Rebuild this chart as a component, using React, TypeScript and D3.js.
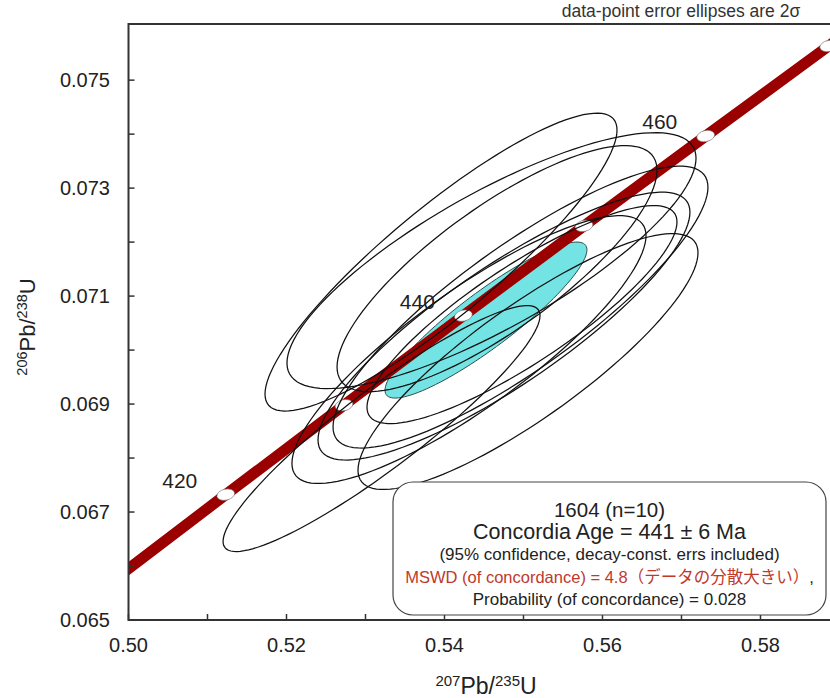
import React from 'react';
import * as d3 from 'd3';

// Concordia curve (207Pb/235U, 206Pb/238U) at ages in Ma
const concordiaAges = [400, 410, 420, 430, 440, 450, 460, 470, 480];
const concordiaX = [0.48281, 0.49749, 0.51231, 0.52728, 0.54239, 0.55766, 0.57307, 0.58864, 0.60436];
const concordiaY = [0.064016, 0.065668, 0.067322, 0.068979, 0.070638, 0.0723, 0.073965, 0.075633, 0.077302];
const markerAges = [420, 430, 440, 450, 460, 470];
const labelAges = [420, 440, 460];

// data-point error ellipses (2 sigma)
const spotX = [0.53956, 0.54595, 0.54665, 0.54962, 0.54753, 0.54981, 0.5431, 0.55057, 0.53203];
const spotY = [0.07163, 0.071657, 0.071509, 0.070796, 0.070444, 0.070657, 0.070009, 0.069787, 0.068546];
const spotSx = [0.02228, 0.02589, 0.02025, 0.02373, 0.02354, 0.01962, 0.02241, 0.02152, 0.02006];
const spotSy = [0.002759, 0.00237, 0.002278, 0.002611, 0.002481, 0.002019, 0.002481, 0.00237, 0.002278];
const spotRho = [0.886, 0.8, 0.8, 0.85, 0.85, 0.85, 0.85, 0.85, 0.918];

// concordia age ellipse
const meanX = [0.54525];
const meanY = [0.070556];
const meanSx = [0.01278];
const meanSy = [0.001445];
const meanRho = [0.9];

const xTickValues = [0.5, 0.51, 0.52, 0.53, 0.54, 0.55, 0.56, 0.57, 0.58];
const xTickLabels = ['0.50', '', '0.52', '', '0.54', '', '0.56', '', '0.58'];
const yTickValues = [0.065, 0.066, 0.067, 0.068, 0.069, 0.07, 0.071, 0.072, 0.073, 0.074, 0.075];
const yTickLabels = ['0.065', '', '0.067', '', '0.069', '', '0.071', '', '0.073', '', '0.075'];

const boxLines = [
  '1604 (n=10)',
  'Concordia Age = 441 ± 6 Ma',
  '(95% confidence, decay-const. errs included)',
  'MSWD (of concordance) = 4.8（データの分散大きい）',
  'Probability (of concordance) = 0.028',
];

const W = 830;
const H = 698;
const left = 128.5;
const right = 830;
const top = 24;
const bottom = 620;

const x = d3.scaleLinear().domain([0.5, 0.5888]).range([left, right]);
const y = d3.scaleLinear().domain([0.065, 0.07604]).range([bottom, top]);

const FONT = '"Liberation Sans", Arial, Helvetica, sans-serif';

function ellipsePath(cx: number, cy: number, sx: number, sy: number, rho: number) {
  const n = 120;
  const pts: [number, number][] = [];
  const k = Math.sqrt(1 - rho * rho);
  for (let i = 0; i <= n; i++) {
    const t = (i / n) * Math.PI * 2;
    const vx = cx + sx * Math.cos(t);
    const vy = cy + sy * (rho * Math.cos(t) + k * Math.sin(t));
    pts.push([x(vx), y(vy)]);
  }
  return d3.line().curve(d3.curveLinearClosed)(pts) as string;
}

export default function App() {
  const concPts: [number, number][] = concordiaAges.map((_, i) => [x(concordiaX[i]), y(concordiaY[i])]);
  const concPath = d3.line().curve(d3.curveCatmullRom)(concPts) as string;
  const ageIndex = (a: number) => concordiaAges.indexOf(a);

  const boxX = 393;
  const boxY = 482;
  const boxW = 433;
  const boxH = 133;
  const boxCx = boxX + boxW / 2;

  return (
    <svg width={W} height={H} style={{ position: 'absolute', left: 0, top: 0, background: '#fff' }} fontFamily={FONT}>
      <defs>
        <clipPath id="plotClip">
          <rect x={left} y={top} width={right - left + 20} height={bottom - top} />
        </clipPath>
      </defs>
      <rect x={0} y={0} width={W} height={H} fill="#fff" />

      <g clipPath="url(#plotClip)">
        {/* concordia age ellipse */}
        <path
          d={ellipsePath(meanX[0], meanY[0], meanSx[0], meanSy[0], meanRho[0])}
          fill="#74e3e3"
          stroke="#2f4f4f"
          strokeWidth={1}
        />
        {/* concordia band */}
        <path d={concPath} fill="none" stroke="#9b0000" strokeWidth={11} />
        {markerAges.map((a) => {
          const i = ageIndex(a);
          const px = x(concordiaX[i]);
          const py = y(concordiaY[i]);
          return (
            <ellipse
              key={a}
              cx={px}
              cy={py}
              rx={9}
              ry={5.5}
              transform={`rotate(-12 ${px} ${py})`}
              fill="#fff"
              stroke="#777"
              strokeWidth={0.6}
            />
          );
        })}
        {/* data-point ellipses */}
        {spotX.map((_, i) => (
          <path
            key={i}
            d={ellipsePath(spotX[i], spotY[i], spotSx[i], spotSy[i], spotRho[i])}
            fill="none"
            stroke="#111"
            strokeWidth={1.25}
          />
        ))}
      </g>

      {labelAges.map((a) => {
        const i = ageIndex(a);
        return (
          <text
            key={a}
            x={x(concordiaX[i]) - 46}
            y={y(concordiaY[i]) - 7}
            textAnchor="middle"
            fontSize={21}
            fill="#222"
          >
            {a}
          </text>
        );
      })}

      {/* frame */}
      <path
        d={`M${right + 5},${top}H${left}V${bottom}H${right + 5}`}
        fill="none"
        stroke="#333"
        strokeWidth={2}
      />
      {xTickValues.map((v, i) => (
        <g key={'xt' + i}>
          <line x1={x(v)} x2={x(v)} y1={bottom} y2={bottom - 6} stroke="#333" strokeWidth={1.5} />
          {xTickLabels[i] && (
            <text x={x(v)} y={652} textAnchor="middle" fontSize={20} fill="#222">
              {xTickLabels[i]}
            </text>
          )}
        </g>
      ))}
      {yTickValues.map((v, i) => (
        <g key={'yt' + i}>
          <line x1={left} x2={left + 6} y1={y(v)} y2={y(v)} stroke="#333" strokeWidth={1.5} />
          {yTickLabels[i] && (
            <text x={110} y={y(v) + 7} textAnchor="end" fontSize={20} fill="#222">
              {yTickLabels[i]}
            </text>
          )}
        </g>
      ))}

      {/* axis titles */}
      <text x={486} y={694} textAnchor="middle" fill="#222">
        <tspan fontSize={15} dy={-8}>207</tspan>
        <tspan fontSize={23} dy={8}>Pb/</tspan>
        <tspan fontSize={15} dy={-8}>235</tspan>
        <tspan fontSize={23} dy={8}>U</tspan>
      </text>
      <text transform="translate(35,327) rotate(-90)" textAnchor="middle" fill="#222">
        <tspan fontSize={14.5} dy={-8}>206</tspan>
        <tspan fontSize={22} dy={8}>Pb/</tspan>
        <tspan fontSize={14.5} dy={-8}>238</tspan>
        <tspan fontSize={22} dy={8}>U</tspan>
      </text>

      <text x={681} y={17} textAnchor="middle" fontSize={17.5} fill="#333">
        data-point error ellipses are 2σ
      </text>

      {/* result box */}
      <rect x={boxX} y={boxY} width={boxW} height={boxH} rx={20} ry={20} fill="#fff" stroke="#444" strokeWidth={1.2} />
      <text x={boxCx} y={517} textAnchor="middle" fontSize={20.5} fill="#222">{boxLines[0]}</text>
      <text x={boxCx} y={539} textAnchor="middle" fontSize={21.5} fill="#222">{boxLines[1]}</text>
      <text x={boxCx} y={560} textAnchor="middle" fontSize={17} fill="#222">{boxLines[2]}</text>
      <text x={boxCx} y={583} textAnchor="middle" fontSize={16.5} fill="#c0392b" fontFamily={`"Liberation Sans", Arial, "Noto Sans CJK JP", sans-serif`}>
        {boxLines[3]}
        <tspan fill="#222">,</tspan>
      </text>
      <text x={boxCx} y={605} textAnchor="middle" fontSize={17} fill="#222">{boxLines[4]}</text>
    </svg>
  );
}
